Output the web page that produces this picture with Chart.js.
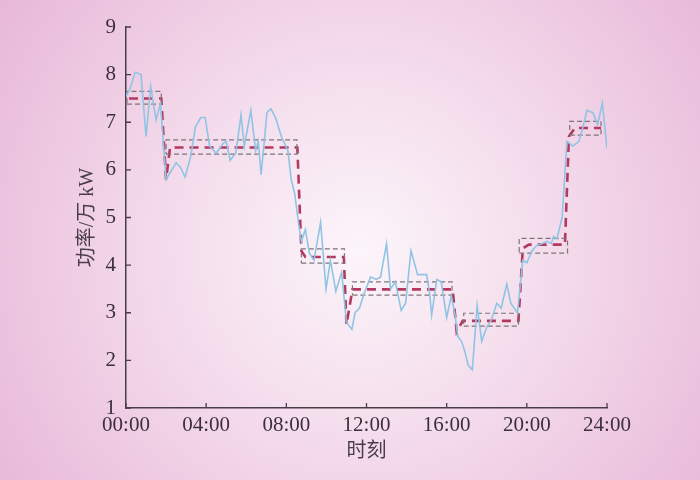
<!DOCTYPE html>
<html>
<head>
<meta charset="utf-8">
<script src="https://cdn.jsdelivr.net/npm/chart.js@4.4.1/dist/chart.umd.min.js"></script>
<style>
  html, body { margin: 0; padding: 0; background: #efcde4; overflow: hidden; }
  canvas { display: block; }
</style>
</head>
<body>
<canvas id="powerChart" width="700" height="480"></canvas>
<script>
// Curva de carga medida (horas / valores en 万 kW)
const loadHours = [
  0, 0.2, 0.45, 0.75, 1.0, 1.23, 1.5, 1.72, 2.0, 2.5, 2.72, 2.95, 3.24, 3.46, 3.73, 3.95,
  4.17, 4.5, 4.84, 5.0, 5.2, 5.47, 5.56, 5.74, 5.9, 6.23, 6.47, 6.6, 6.74, 6.9, 7.03, 7.23,
  7.46, 7.75, 8.08, 8.24, 8.42, 8.6, 8.75, 8.95, 9.15, 9.38, 9.71, 9.98, 10.2, 10.47, 10.76,
  11.0, 11.27, 11.43, 11.65, 11.88, 12.2, 12.5, 12.7, 13.0, 13.2, 13.44, 13.73, 13.95, 14.22,
  14.55, 15.0, 15.15, 15.25, 15.51, 15.73, 16.0, 16.23, 16.4, 16.56, 16.74, 16.9, 17.07, 17.28,
  17.52, 17.75, 18.0, 18.23, 18.5, 18.72, 19.0, 19.2, 19.53, 19.8, 20.0, 20.25, 20.47, 20.74,
  21.0, 21.22, 21.33, 21.5, 21.76, 22.0, 22.3, 22.6, 22.8, 23.0, 23.3, 23.53, 23.77, 24.0
];
const loadValues = [
  7.55, 7.7, 8.05, 8.0, 6.7, 7.75, 7.05, 7.4, 5.8, 6.15, 6.05, 5.85, 6.3, 6.9, 7.1, 7.1,
  6.5, 6.35, 6.55, 6.6, 6.2, 6.35, 6.6, 7.15, 6.5, 7.25, 6.4, 6.6, 5.9, 6.6, 7.2, 7.28,
  7.1, 6.7, 6.4, 5.8, 5.5, 4.9, 4.5, 4.75, 4.25, 4.1, 4.9, 3.5, 4.1, 3.45, 3.85,
  2.8, 2.65, 3.0, 3.1, 3.4, 3.75, 3.7, 3.75, 4.45, 3.5, 3.65, 3.05, 3.2, 4.3,
  3.8, 3.8, 3.4, 2.95, 3.7, 3.65, 2.9, 3.35, 3.0, 2.5, 2.4, 2.2, 1.9, 1.8,
  3.15, 2.4, 2.7, 2.85, 3.2, 3.1, 3.6, 3.2, 3.0, 4.1, 4.05, 4.3, 4.4, 4.45,
  4.5, 4.45, 4.6, 4.55, 5.0, 6.6, 6.5, 6.6, 6.9, 7.25, 7.2, 6.95, 7.4, 6.45
];

// Curva escalonada (segmentos por tramo)
const stepHours = [0.15, 1.76, 2.0, 2.2, 8.55, 8.75, 8.95, 10.87, 11.0, 11.3, 16.3, 16.5, 16.8, 19.58, 19.8, 20.1, 21.9, 22.1, 22.4, 23.7];
const stepValues = [7.5, 7.5, 5.8, 6.47, 6.47, 4.3, 4.17, 4.17, 2.75, 3.49, 3.49, 2.6, 2.83, 2.83, 4.35, 4.43, 4.43, 6.7, 6.88, 6.88];

// Bandas (rectángulos grises) por tramo
const bandStart = [0.05, 2.0, 8.75, 11.3, 16.85, 19.62, 22.14];
const bandEnd = [1.76, 8.53, 10.9, 16.27, 19.58, 22.03, 23.7];
const bandLow = [7.38, 6.33, 4.04, 3.37, 2.72, 4.25, 6.73];
const bandHigh = [7.65, 6.63, 4.34, 3.65, 2.99, 4.56, 7.02];

const xTicks = [0, 4, 8, 12, 16, 20, 24];
const yTicks = [1, 2, 3, 4, 5, 6, 7, 8, 9];

const serif = '"Liberation Serif", "Noto Sans CJK SC", serif';
const axisColor = '#4a3d4a';

const bandDatasets = bandStart.map((x0, i) => ({
  label: 'band' + i,
  data: [
    { x: x0, y: bandLow[i] },
    { x: bandEnd[i], y: bandLow[i] },
    { x: bandEnd[i], y: bandHigh[i] },
    { x: x0, y: bandHigh[i] },
    { x: x0, y: bandLow[i] }
  ],
  borderColor: '#7d7479',
  borderWidth: 1.2,
  borderDash: [5, 3],
  pointRadius: 0,
  tension: 0,
  fill: false
}));

// Fondo con degradado radial
const backgroundPlugin = {
  id: 'bg',
  beforeDraw(chart) {
    const { ctx, width, height } = chart;
    const g = ctx.createRadialGradient(360, 250, 0, 360, 250, 470);
    g.addColorStop(0, '#fcf5fa');
    g.addColorStop(0.45, '#f3d9ea');
    g.addColorStop(1, '#e6b3d6');
    ctx.save();
    ctx.fillStyle = g;
    ctx.fillRect(0, 0, width, height);
    ctx.restore();
  }
};

// Marcas de graduación hacia dentro
const innerTicksPlugin = {
  id: 'innerTicks',
  afterDraw(chart) {
    const { ctx, chartArea, scales } = chart;
    ctx.save();
    ctx.strokeStyle = axisColor;
    ctx.lineWidth = 1.3;
    ctx.beginPath();
    scales.y.ticks.forEach(t => {
      const py = scales.y.getPixelForValue(t.value);
      ctx.moveTo(chartArea.left, py);
      ctx.lineTo(chartArea.left + 5, py);
    });
    scales.x.ticks.forEach(t => {
      const px = scales.x.getPixelForValue(t.value);
      ctx.moveTo(px, chartArea.bottom);
      ctx.lineTo(px, chartArea.bottom - 5);
    });
    ctx.stroke();
    ctx.restore();
  }
};

new Chart(document.getElementById('powerChart'), {
  type: 'line',
  data: {
    datasets: [
      {
        label: 'load',
        data: loadHours.map((h, i) => ({ x: h, y: loadValues[i] })),
        borderColor: '#90c4e4',
        borderWidth: 1.6,
        pointRadius: 0,
        tension: 0,
        fill: false
      },
      ...bandDatasets,
      {
        label: 'step',
        data: stepHours.map((h, i) => ({ x: h, y: stepValues[i] })),
        borderColor: '#b3395f',
        borderWidth: 2.6,
        borderDash: [9, 6],
        pointRadius: 0,
        tension: 0,
        fill: false
      }
    ]
  },
  options: {
    responsive: false,
    animation: false,
    devicePixelRatio: 1,
    layout: { padding: { left: 0, top: 27, right: 93, bottom: 0 } },
    plugins: {
      legend: { display: false },
      tooltip: { enabled: false }
    },
    scales: {
      x: {
        type: 'linear',
        min: 0,
        max: 24,
        afterBuildTicks: scale => { scale.ticks = xTicks.map(v => ({ value: v })); },
        afterFit: scale => { scale.height = 72; },
        grid: { display: false, drawTicks: false },
        border: { display: true, color: axisColor, width: 1.5 },
        ticks: {
          autoSkip: false,
          maxRotation: 0,
          padding: 5,
          color: '#3b303b',
          font: { family: serif, size: 21 },
          callback: v => String(v).padStart(2, '0') + ':00'
        },
        title: {
          display: true,
          text: '时刻',
          color: '#4a3d4a',
          font: { family: serif, size: 20 },
          padding: { bottom: 16 }
        }
      },
      y: {
        min: 1,
        max: 9,
        afterBuildTicks: scale => { scale.ticks = yTicks.map(v => ({ value: v })); },
        afterFit: scale => { scale.width = 126; },
        grid: { display: false, drawTicks: false },
        border: { display: true, color: axisColor, width: 1.5 },
        ticks: {
          autoSkip: false,
          padding: 10,
          color: '#3b303b',
          font: { family: serif, size: 21 }
        },
        title: {
          display: true,
          text: '功率/万 kW',
          color: '#4a3d4a',
          font: { family: serif, size: 20 },
          padding: { top: 76 }
        }
      }
    }
  },
  plugins: [backgroundPlugin, innerTicksPlugin]
});
</script>
</body>
</html>
